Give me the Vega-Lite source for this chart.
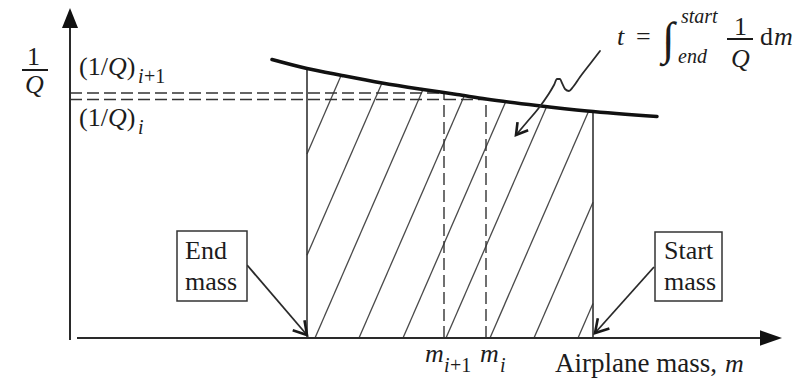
{
  "$schema": "https://vega.github.io/schema/vega-lite/v6.json",
  "width": 810,
  "height": 379,
  "padding": 0,
  "autosize": {"type": "fit", "contains": "padding"},
  "config": {"view": {"stroke": null}},
  "datasets": {
    "axisLines": [
      {"x": 0, "y": -0.2, "x2": 0, "y2": 31},
      {"x": 0.7, "y": 0, "x2": 69.5, "y2": 0}
    ],
    "yArrow": [{"x": 0, "y": 32}],
    "xArrow": [{"x": 70.1, "y": 0}],
    "curve": [
      {"x": 20.2, "y": 27.85},
      {"x": 23.7, "y": 26.95},
      {"x": 27.2, "y": 26.25},
      {"x": 31.2, "y": 25.5},
      {"x": 35.3, "y": 24.85},
      {"x": 38.7, "y": 24.35},
      {"x": 41.6, "y": 23.9},
      {"x": 46.7, "y": 23.25},
      {"x": 51.7, "y": 22.7},
      {"x": 58.7, "y": 22.15}
    ],
    "bounds": [
      {"x": 23.7, "y": 0, "x2": 23.7, "y2": 26.95},
      {"x": 52.3, "y": 0, "x2": 52.3, "y2": 22.65}
    ],
    "hatch": [
      {"x": 23.7, "y": 18.4, "x2": 27.12, "y2": 26.27},
      {"x": 23.7, "y": 8.28, "x2": 31.2, "y2": 25.5},
      {"x": 24.5, "y": 0, "x2": 35.3, "y2": 24.85},
      {"x": 28.9, "y": 0, "x2": 39.44, "y2": 24.24},
      {"x": 33.3, "y": 0, "x2": 43.58, "y2": 23.65},
      {"x": 37.6, "y": 0, "x2": 47.67, "y2": 23.15},
      {"x": 42.0, "y": 0, "x2": 51.86, "y2": 22.68},
      {"x": 46.4, "y": 0, "x2": 52.3, "y2": 13.57},
      {"x": 50.8, "y": 0, "x2": 52.3, "y2": 3.45}
    ],
    "guides": [
      {"x": 0, "y": 24.5, "x2": 37.4, "y2": 24.5},
      {"x": 0, "y": 23.85, "x2": 41.6, "y2": 23.85},
      {"x": 37.4, "y": 0, "x2": 37.4, "y2": 24.5},
      {"x": 41.6, "y": 0, "x2": 41.6, "y2": 23.85}
    ],
    "boxes": [
      {"x": 10.7, "x2": 17.7, "y": 3.7, "y2": 10.7},
      {"x": 58.5, "x2": 65.2, "y": 3.7, "y2": 10.6}
    ],
    "pointers": [
      {"x": 17.7, "y": 7.3, "x2": 23.7, "y2": 0.3},
      {"x": 58.4, "y": 7.1, "x2": 52.5, "y2": 0.5}
    ],
    "tipEnd": [{"x": 23.7, "y": 0.3}],
    "tipStart": [{"x": 52.5, "y": 0.5}],
    "tipArea": [{"x": 44.6, "y": 20.3}],
    "squiggle": [
      {"x": 53.0, "y": 28.7},
      {"x": 52.0, "y": 27.4},
      {"x": 51.0, "y": 26.1},
      {"x": 50.3, "y": 25.1},
      {"x": 49.9, "y": 24.7},
      {"x": 49.5, "y": 24.9},
      {"x": 49.2, "y": 25.5},
      {"x": 49.0, "y": 25.9},
      {"x": 48.7, "y": 25.9},
      {"x": 48.4, "y": 25.3},
      {"x": 47.8, "y": 24.3},
      {"x": 46.8, "y": 22.9},
      {"x": 45.7, "y": 21.6},
      {"x": 44.6, "y": 20.3}
    ],
    "fractionBars": [
      {"x": -4.8, "y": 26.8, "x2": -2.2, "y2": 26.8},
      {"x": 65.7, "y": 29.9, "x2": 68.3, "y2": 29.9}
    ],
    "roman": [
      {"x": 11.5, "y": 7.9, "text": "End"},
      {"x": 11.5, "y": 4.8, "text": "mass"},
      {"x": 59.4, "y": 7.9, "text": "Start"},
      {"x": 59.4, "y": 4.8, "text": "mass"},
      {"x": -4.3, "y": 27.3, "text": "1"},
      {"x": 0.9, "y": 26.3, "text": "(1/"},
      {"x": 5.67, "y": 26.3, "text": ")"},
      {"x": 0.9, "y": 21.2, "text": "(1/"},
      {"x": 5.67, "y": 21.2, "text": ")"},
      {"x": 56.6, "y": 29.3, "text": "="},
      {"x": 66.4, "y": 30.3, "text": "1"},
      {"x": 69.0, "y": 29.3, "text": "d"}
    ],
    "axisTitle": [
      {"x": 48.5, "y": -3.4, "text": "Airplane mass,"}
    ],
    "italic": [
      {"x": -4.5, "y": 24.5, "text": "Q"},
      {"x": 3.79, "y": 26.3, "text": "Q"},
      {"x": 3.79, "y": 21.2, "text": "Q"},
      {"x": 54.7, "y": 29.3, "text": "t"},
      {"x": 66.1, "y": 27.1, "text": "Q"},
      {"x": 70.4, "y": 29.3, "text": "m"},
      {"x": 35.5, "y": -2.4, "text": "m"},
      {"x": 41.0, "y": -2.4, "text": "m"},
      {"x": 65.5, "y": -3.4, "text": "m"}
    ],
    "italicSmall": [
      {"x": 6.8, "y": 25.5, "text": "i"},
      {"x": 6.8, "y": 20.4, "text": "i"},
      {"x": 61.1, "y": 31.5, "text": "start"},
      {"x": 60.8, "y": 27.5, "text": "end"},
      {"x": 37.4, "y": -3.4, "text": "i"},
      {"x": 43.0, "y": -3.4, "text": "i"}
    ],
    "romanSmall": [
      {"x": 7.4, "y": 25.5, "text": "+1"},
      {"x": 38.0, "y": -3.4, "text": "+1"}
    ],
    "integral": [{"x": 59.2, "y": 28.4, "text": "∫"}]
  },
  "encoding": {
    "x": {"field": "x", "type": "quantitative", "axis": null, "scale": {"domain": [-7, 74], "nice": false, "zero": false}},
    "y": {"field": "y", "type": "quantitative", "axis": null, "scale": {"domain": [-4.1, 33.8], "nice": false, "zero": false}}
  },
  "layer": [
    {
      "data": {"name": "hatch"},
      "mark": {"type": "rule", "color": "#4a4a4a", "strokeWidth": 1.3},
      "encoding": {"x2": {"field": "x2"}, "y2": {"field": "y2"}}
    },
    {
      "data": {"name": "guides"},
      "mark": {"type": "rule", "color": "#333333", "strokeWidth": 1.4, "strokeDash": [12, 5]},
      "encoding": {"x2": {"field": "x2"}, "y2": {"field": "y2"}}
    },
    {
      "data": {"name": "bounds"},
      "mark": {"type": "rule", "color": "#333333", "strokeWidth": 1.6},
      "encoding": {"x2": {"field": "x2"}, "y2": {"field": "y2"}}
    },
    {
      "data": {"name": "axisLines"},
      "mark": {"type": "rule", "color": "#2a2a2a", "strokeWidth": 2},
      "encoding": {"x2": {"field": "x2"}, "y2": {"field": "y2"}}
    },
    {
      "data": {"name": "yArrow"},
      "mark": {"type": "point", "shape": "M0,-1L-0.8,1L0.8,1Z", "size": 400, "filled": true, "color": "#111111", "opacity": 1}
    },
    {
      "data": {"name": "xArrow"},
      "mark": {"type": "point", "shape": "M1,0L-1,-0.7L-1,0.7Z", "size": 484, "filled": true, "color": "#111111", "opacity": 1}
    },
    {
      "data": {"name": "curve"},
      "mark": {"type": "line", "interpolate": "monotone", "color": "#111111", "strokeWidth": 3.5, "strokeCap": "round"}
    },
    {
      "data": {"name": "squiggle"},
      "mark": {"type": "line", "interpolate": "monotone", "color": "#2a2a2a", "strokeWidth": 1.8, "strokeCap": "round"}
    },
    {
      "data": {"name": "pointers"},
      "mark": {"type": "rule", "color": "#2a2a2a", "strokeWidth": 1.8},
      "encoding": {"x2": {"field": "x2"}, "y2": {"field": "y2"}}
    },
    {
      "data": {"name": "tipEnd"},
      "mark": {"type": "point", "shape": "M-1,-0.6L0,0L-1,0.6", "size": 666, "angle": 49.4, "filled": false, "fill": null, "stroke": "#1a1a1a", "strokeWidth": 2.6, "opacity": 1}
    },
    {
      "data": {"name": "tipStart"},
      "mark": {"type": "point", "shape": "M-1,-0.6L0,0L-1,0.6", "size": 666, "angle": 131.8, "filled": false, "fill": null, "stroke": "#1a1a1a", "strokeWidth": 2.6, "opacity": 1}
    },
    {
      "data": {"name": "tipArea"},
      "mark": {"type": "point", "shape": "M-1,-0.6L0,0L-1,0.6", "size": 500, "angle": 127.7, "filled": false, "fill": null, "stroke": "#1a1a1a", "strokeWidth": 2.6, "opacity": 1}
    },
    {
      "data": {"name": "boxes"},
      "mark": {"type": "rect", "fill": "#ffffff", "stroke": "#333333", "strokeWidth": 1.5},
      "encoding": {"x2": {"field": "x2"}, "y2": {"field": "y2"}}
    },
    {
      "data": {"name": "fractionBars"},
      "mark": {"type": "rule", "color": "#1a1a1a", "strokeWidth": 2},
      "encoding": {"x2": {"field": "x2"}, "y2": {"field": "y2"}}
    },
    {
      "data": {"name": "roman"},
      "mark": {"type": "text", "align": "left", "baseline": "alphabetic", "font": "Liberation Serif", "fontSize": 26, "color": "#1c1c1c"},
      "encoding": {"text": {"field": "text"}}
    },
    {
      "data": {"name": "axisTitle"},
      "mark": {"type": "text", "align": "left", "baseline": "alphabetic", "font": "Liberation Serif", "fontSize": 27, "color": "#1c1c1c"},
      "encoding": {"text": {"field": "text"}}
    },
    {
      "data": {"name": "italic"},
      "mark": {"type": "text", "align": "left", "baseline": "alphabetic", "font": "Liberation Serif", "fontStyle": "italic", "fontSize": 26, "color": "#1c1c1c"},
      "encoding": {"text": {"field": "text"}}
    },
    {
      "data": {"name": "italicSmall"},
      "mark": {"type": "text", "align": "left", "baseline": "alphabetic", "font": "Liberation Serif", "fontStyle": "italic", "fontSize": 20, "color": "#1c1c1c"},
      "encoding": {"text": {"field": "text"}}
    },
    {
      "data": {"name": "romanSmall"},
      "mark": {"type": "text", "align": "left", "baseline": "alphabetic", "font": "Liberation Serif", "fontSize": 20, "color": "#1c1c1c"},
      "encoding": {"text": {"field": "text"}}
    },
    {
      "data": {"name": "integral"},
      "mark": {"type": "text", "align": "left", "baseline": "alphabetic", "font": "Liberation Serif", "fontSize": 46, "color": "#1c1c1c"},
      "encoding": {"text": {"field": "text"}}
    }
  ]
}
